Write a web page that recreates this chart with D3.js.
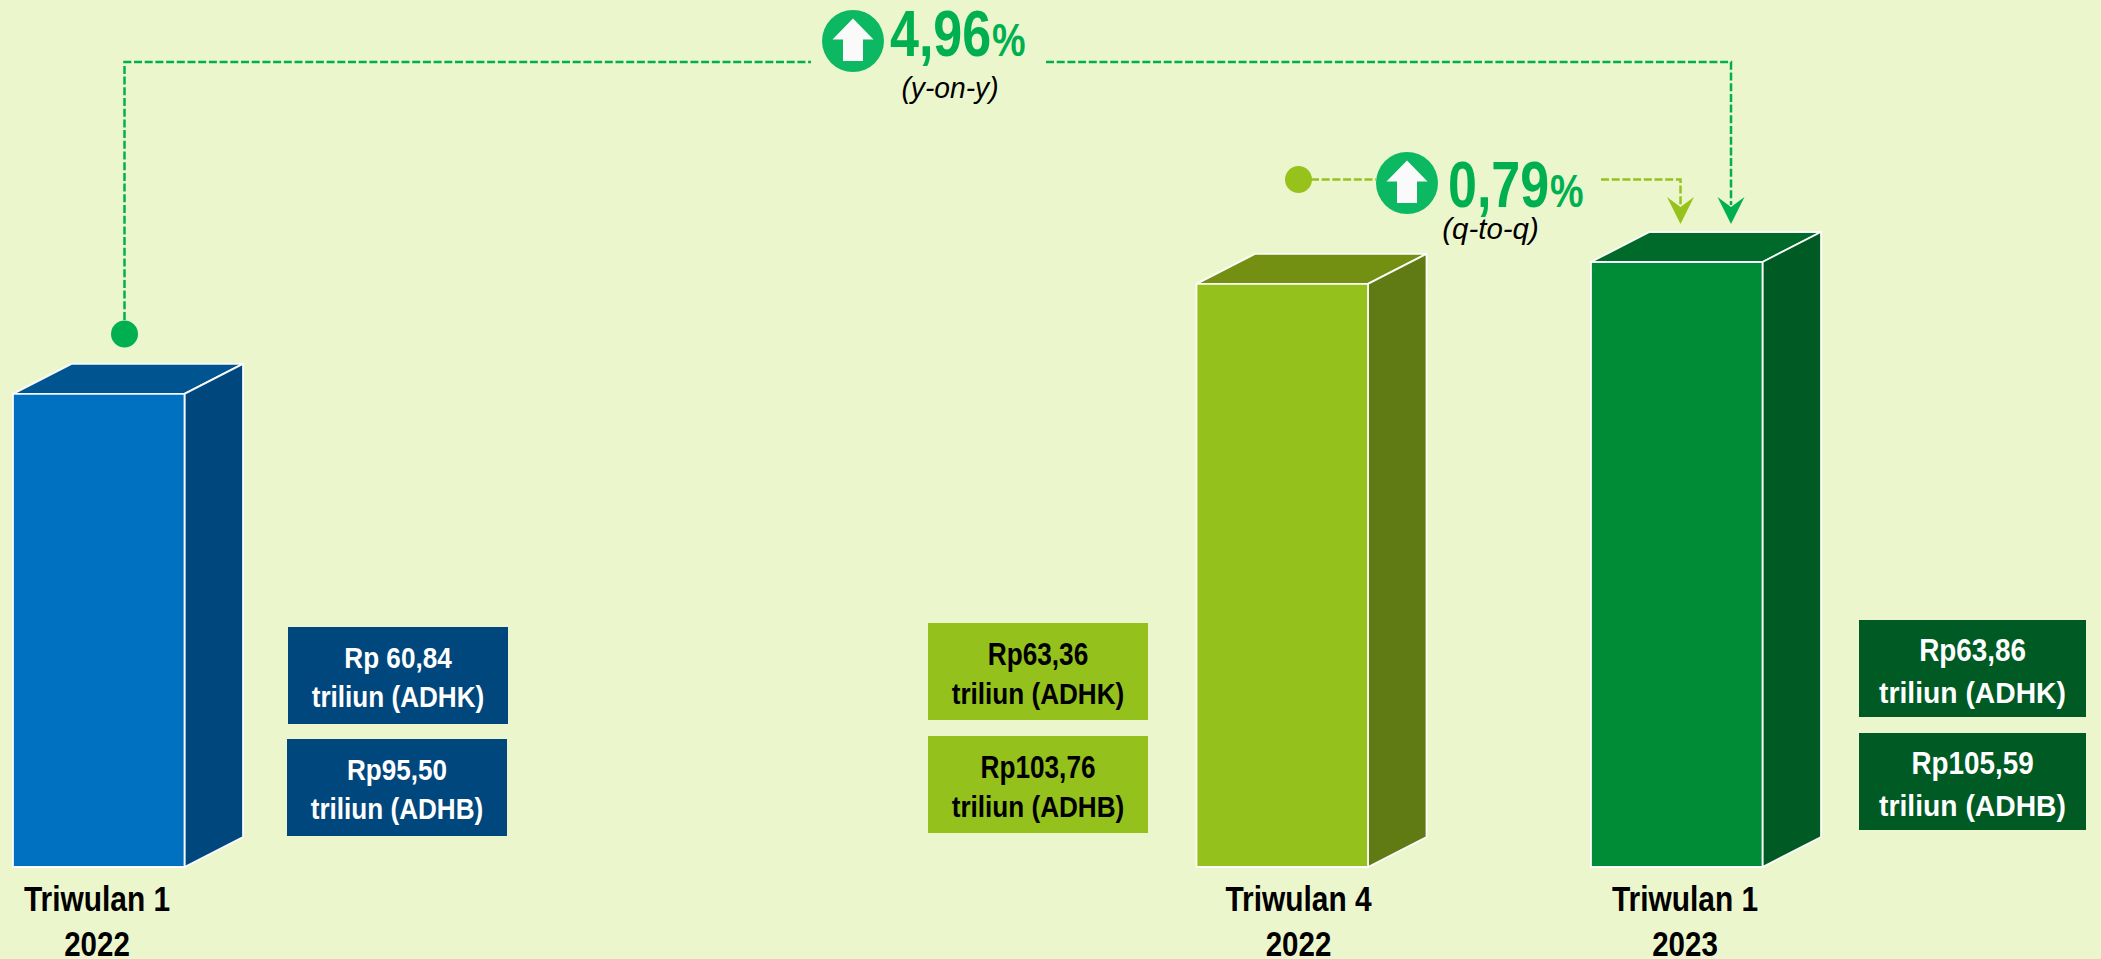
<!DOCTYPE html>
<html><head><meta charset="utf-8">
<script src="https://cdn.jsdelivr.net/npm/d3@7"></script>
<style>html,body{margin:0;padding:0;background:#ECF6CD;overflow:hidden}svg{display:block}
text{font-family:"Liberation Sans",Arial,sans-serif}</style></head><body>
<script>
// ---- data ----
const quarterIndex = [0, 3, 4];              // quarters since Q1 2022
const quarterLabels = ["Triwulan 1", "Triwulan 4", "Triwulan 1"];
const yearLabels = ["2022", "2022", "2023"];
const adhk = [60.84, 63.36, 63.86];
const adhb = [95.50, 103.76, 105.59];
const adhkPrefix = ["Rp ", "Rp", "Rp"];
const adhbPrefix = ["Rp", "Rp", "Rp"];
const yoyLabel = "4,96", yoyTag = "(y-on-y)";
const qtqLabel = "0,79", qtqTag = "(q-to-q)";

// ---- style / layout ----
const W = 2101, H = 959;
const frontColor = ["#0070C0", "#95C11C", "#008C36"];
const topColor   = ["#005590", "#739012", "#006A2B"];
const sideColor  = ["#00477D", "#607A14", "#005A24"];
const boxColor   = ["#00477D", "#95C11C", "#005A24"];
const boxText    = ["#fff", "#000", "#fff"];
const boxX = [[288, 287], [928, 928], [1859, 1859]];
const boxY = [[627, 739], [623, 736], [620, 733]];
const boxWidth = [220, 220, 227];
const line1Style = [{ f: 30, sx: 0.87, dy: 41 }, { f: 31, sx: 0.845, dy: 42 }, { f: 32, sx: 0.87, dy: 41 }];
const line2Style = [{ f: 29, sx: 0.9, dy: 80 }, { f: 30, sx: 0.87, dy: 81 }, { f: 29, sx: 0.975, dy: 83 }];
const labelDx = [84, 102, 94];
const green = "#00B050", iconGreen = "#0DB863", lime = "#97C21C";

const x = d3.scaleLinear().domain([0, 4]).range([13, 1591]);
const y = d3.scaleLinear().domain([50, 70]).range([867, -6]);
const barW = 171.5, depthX = 58.5, depthY = 30, boxH = 97;

const svg = d3.select("body").append("svg").attr("width", W).attr("height", H);
svg.append("rect").attr("width", W).attr("height", H).attr("fill", "#ECF6CD");

function sq(parent, px, py, sx, str, size, opts = {}) {
  return parent.append("text")
    .attr("transform", `translate(${px},${py}) scale(${sx},1)`)
    .attr("text-anchor", opts.anchor || "middle")
    .attr("font-size", size)
    .attr("font-weight", opts.weight || "bold")
    .attr("font-style", opts.style || "normal")
    .attr("fill", opts.fill || "#000").text(str);
}

// ---- bars ----
const bars = svg.selectAll("g.bar").data(quarterIndex).join("g").attr("class", "bar");
bars.each(function (q, i) {
  const g = d3.select(this);
  const l = x(q), r = l + barW, t = y(adhk[i]), b = y(50);
  const poly = (pts, fill) => g.append("polygon").attr("points", pts.join(" ")).attr("fill", fill)
    .attr("stroke", "#fff").attr("stroke-width", 1.8).attr("stroke-opacity", 0.95);
  poly([[l, t], [l + depthX, t - depthY], [r + depthX, t - depthY], [r, t]], topColor[i]);
  poly([[r, t], [r + depthX, t - depthY], [r + depthX, b - depthY], [r, b]], sideColor[i]);
  poly([[l, t], [r, t], [r, b], [l, b]], frontColor[i]);

  sq(svg, l + labelDx[i], 911, 0.83, quarterLabels[i], 36);
  sq(svg, l + labelDx[i], 956, 0.82, yearLabels[i], 36);

  const vals = [adhk[i], adhb[i]], pre = [adhkPrefix[i], adhbPrefix[i]], kinds = ["ADHK", "ADHB"];
  vals.forEach((v, k) => {
    const bx = boxX[i][k], by = boxY[i][k], bw = boxWidth[i];
    svg.append("rect").attr("x", bx).attr("y", by).attr("width", bw).attr("height", boxH).attr("fill", boxColor[i]);
    const cx = bx + bw / 2, a = line1Style[i], c = line2Style[i];
    sq(svg, cx, by + a.dy, a.sx, pre[k] + v.toFixed(2).replace(".", ","), a.f, { fill: boxText[i] });
    sq(svg, cx, by + c.dy, c.sx, `triliun (${kinds[k]})`, c.f, { fill: boxText[i] });
  });
});

// ---- connectors ----
const dash = "8 2.7";
const line = d3.line();
function conn(pts, color) {
  svg.append("path").attr("d", line(pts)).attr("fill", "none").attr("stroke", color)
    .attr("stroke-width", 2.5).attr("stroke-dasharray", dash);
}
function head(tx, ty, color) {
  const p = d3.path();
  p.moveTo(tx, ty); p.lineTo(tx - 13.5, ty - 27); p.lineTo(tx, ty - 17); p.lineTo(tx + 13.5, ty - 27); p.closePath();
  svg.append("path").attr("d", p.toString()).attr("fill", color);
}
function icon(cx, cy) {
  svg.append("circle").attr("cx", cx).attr("cy", cy).attr("r", 31).attr("fill", iconGreen);
  svg.append("path").attr("d", line([[cx, cy - 22.5], [cx + 20.5, cy - 1.5], [cx + 10, cy - 1.5], [cx + 10, cy + 20],
    [cx - 10, cy + 20], [cx - 10, cy - 1.5], [cx - 20.5, cy - 1.5]]) + "Z").attr("fill", "#FAFAFA");
}

conn([[124.5, 320], [124.5, 62], [811, 62]], green);
conn([[1046, 62], [1731, 62], [1731, 205]], green);
svg.append("circle").attr("cx", 124.5).attr("cy", 334).attr("r", 13.5).attr("fill", green);
head(1731, 224, green);
icon(853, 41);
sq(svg, 890, 56, 0.8, yoyLabel, 65, { anchor: "start", fill: green });
sq(svg, 992, 56, 0.82, "%", 46, { anchor: "start", fill: green });
sq(svg, 950, 98, 0.94, yoyTag, 30, { weight: "normal", style: "italic" });

conn([[1311, 179.5], [1376, 179.5]], lime);
conn([[1601, 179.5], [1680.5, 179.5], [1680.5, 205]], lime);
svg.append("circle").attr("cx", 1298.5).attr("cy", 179.5).attr("r", 13.5).attr("fill", lime);
head(1680.5, 224, lime);
icon(1407, 183);
sq(svg, 1448, 207, 0.8, qtqLabel, 65, { anchor: "start", fill: green });
sq(svg, 1550, 207, 0.82, "%", 46, { anchor: "start", fill: green });
sq(svg, 1490.5, 239, 0.98, qtqTag, 30, { weight: "normal", style: "italic" });
</script></body></html>
